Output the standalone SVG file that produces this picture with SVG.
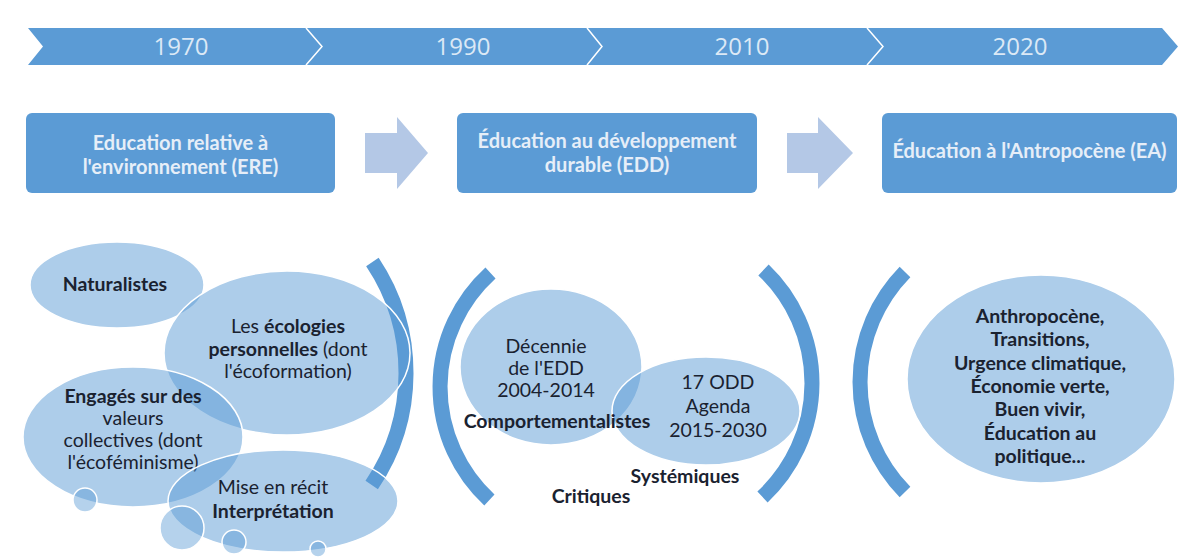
<svg xmlns="http://www.w3.org/2000/svg" width="1184" height="558" viewBox="0 0 1184 558">
<style>
.year{font-family:"Open Sans","Liberation Sans",sans-serif;font-size:24px;fill:#dce9f6;text-anchor:middle}
.hbox{fill:#5b9bd5}
.htxt{font-family:Lato,"Liberation Sans",sans-serif;font-size:20px;font-weight:bold;fill:#e6eef8;text-anchor:middle}
.ell{fill:#5b9bd5;fill-opacity:0.5;stroke:#ffffff;stroke-width:1.5}
.dot{fill:#5b9bd5;fill-opacity:0.45;stroke:#ffffff;stroke-width:1.5}
.t{font-family:Lato,"Liberation Sans",sans-serif;font-size:19.5px;fill:#1a2230;text-anchor:middle}
.b{font-weight:bold}
.arc{fill:none;stroke:#5b9bd5;stroke-width:15}
.bar{fill:#b4c8e6}
.sep{fill:none;stroke:#ffffff;stroke-width:1.5}
</style>
<rect width="1184" height="558" fill="#ffffff"/>
<g id="timeline">
<path d="M28 28 L1162 28 L1178 46.5 L1162 65 L28 65 L43 46.5 Z" fill="#5b9bd5"/>
<polyline class="sep" points="306,28 322,46.5 306,65"/>
<polyline class="sep" points="587,28 602,46.5 587,65"/>
<polyline class="sep" points="867,28 883,46.5 867,65"/>
<text class="year" x="181" y="55">1970</text>
<text class="year" x="463" y="55">1990</text>
<text class="year" x="742" y="55">2010</text>
<text class="year" x="1020" y="55">2020</text>
</g>
<g id="box-ere">
<rect class="hbox" x="26" y="113" width="309" height="80" rx="6"/>
<text class="htxt" x="180.5" y="150">Education relative à</text>
<text class="htxt" x="180.5" y="174">l'environnement (ERE)</text>
</g>
<g id="box-edd">
<rect class="hbox" x="457" y="113" width="300" height="80" rx="6"/>
<text class="htxt" x="607" y="148">Éducation au développement</text>
<text class="htxt" x="607" y="172">durable (EDD)</text>
</g>
<g id="box-ea">
<rect class="hbox" x="882" y="113" width="295" height="80" rx="6"/>
<text class="htxt" x="1029.5" y="158">Éducation à l'Antropocène (EA)</text>
</g>
<g id="connectors">
<path class="bar" d="M365 133 L397 133 L397 117 L428 153 L397 189 L397 173 L365 173 Z"/>
<path class="bar" d="M787 133 L818 133 L818 117 L853 153 L818 189 L818 173 L787 173 Z"/>
</g>
<g id="brackets">
<path class="arc" d="M372.4 262 A200 200 0 0 1 371.7 485"/>
<path class="arc" d="M490.5 273 A154 154 0 0 0 489.4 500"/>
<path class="arc" d="M763.5 270 A156 156 0 0 1 762.5 497"/>
<path class="arc" d="M905 272 A157 157 0 0 0 905 492"/>
</g>
<g id="naturalistes">
<ellipse class="ell" cx="117" cy="285" rx="87" ry="43"/>
<text class="t b" x="115" y="291">Naturalistes</text>
</g>
<g id="ecologies">
<ellipse class="ell" cx="287" cy="353" rx="123" ry="82"/>
<text class="t" x="288" y="333">Les <tspan class="b">écologies</tspan></text>
<text class="t" x="288" y="356"><tspan class="b">personnelles</tspan> (dont</text>
<text class="t" x="288" y="378">l'écoformation)</text>
</g>
<g id="engages">
<ellipse class="ell" cx="133" cy="437" rx="110" ry="70"/>
<text class="t b" x="133" y="403">Engagés sur des</text>
<text class="t" x="133" y="425">valeurs</text>
<text class="t" x="133" y="447">collectives (dont</text>
<text class="t" x="133" y="469">l'écoféminisme)</text>
</g>
<g id="recit">
<ellipse class="ell" cx="283" cy="501" rx="115" ry="51"/>
<text class="t" x="273" y="494">Mise en récit</text>
<text class="t b" x="273" y="518">Interprétation</text>
</g>
<g id="dots">
<circle class="dot" cx="85" cy="500" r="12"/>
<circle class="dot" cx="182" cy="528" r="22"/>
<circle class="dot" cx="234" cy="542" r="12"/>
<circle class="dot" cx="318" cy="549" r="8"/>
</g>
<g id="decennie">
<ellipse class="ell" cx="551" cy="367" rx="91" ry="78"/>
<text class="t" x="546" y="353">Décennie</text>
<text class="t" x="546" y="375">de l'EDD</text>
<text class="t" x="546" y="397">2004-2014</text>
</g>
<g id="odd">
<ellipse class="ell" cx="706" cy="411" rx="94" ry="54"/>
<text class="t" x="718" y="389">17 ODD</text>
<text class="t" x="718" y="413">Agenda</text>
<text class="t" x="718" y="437">2015-2030</text>
</g>
<g id="comportementalistes">
<text class="t b" x="557" y="428">Comportementalistes</text>
</g>
<g id="systemiques">
<text class="t b" x="685" y="483">Systémiques</text>
</g>
<g id="critiques">
<text class="t b" x="591" y="503">Critiques</text>
</g>
<g id="anthropocene">
<ellipse class="ell" cx="1041" cy="379" rx="134" ry="104"/>
<text class="t b" x="1040" y="323">Anthropocène,</text>
<text class="t b" x="1040" y="346">Transitions,</text>
<text class="t b" x="1040" y="370">Urgence climatique,</text>
<text class="t b" x="1040" y="393">Économie verte,</text>
<text class="t b" x="1040" y="416">Buen vivir,</text>
<text class="t b" x="1040" y="440">Éducation au</text>
<text class="t b" x="1040" y="463">politique...</text>
</g>
</svg>
